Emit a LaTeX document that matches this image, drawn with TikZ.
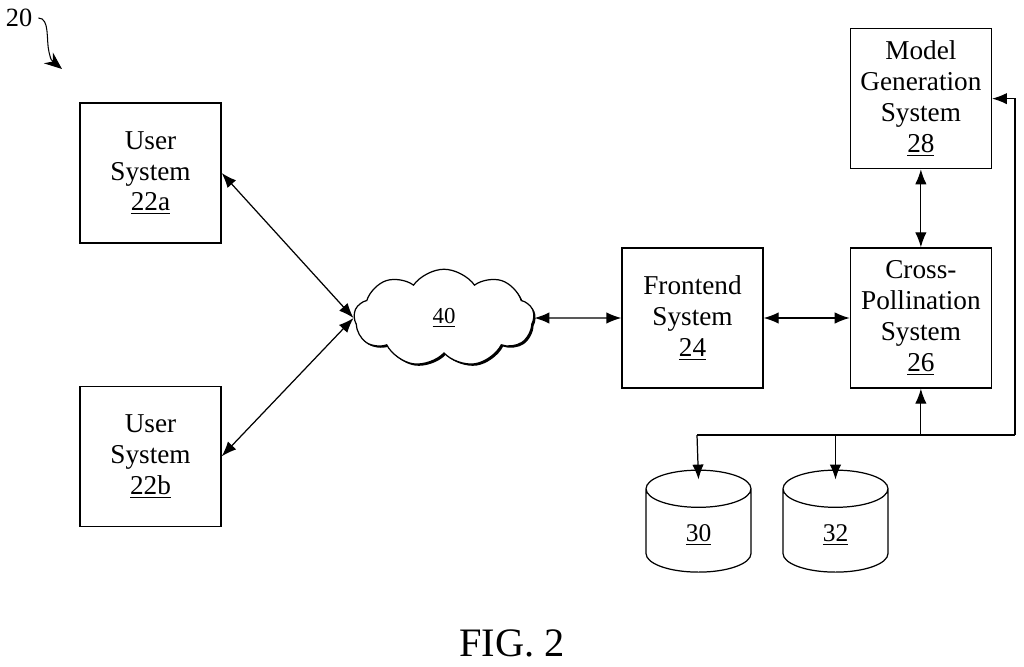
\documentclass[tikz,border=0pt]{standalone}
\usepackage{fontspec}
\setmainfont{Liberation Serif}
\usepackage{tikz}
\usetikzlibrary{shapes,arrows.meta,positioning,shadows}
\tikzstyle{block} = [draw, rectangle, line width=0.8pt, minimum height=2.8cm, minimum width=2.82cm, align=center, font=\fontsize{15.5}{17.6}\selectfont]
\tikzstyle{store} = [draw, cylinder, shape border rotate=90, aspect=1, line width=0.7pt, minimum height=2.04cm, minimum width=2.1cm, font=\fontsize{14.5}{16}\selectfont]
\tikzstyle{link} = [{Latex[length=8.5pt,width=6.5pt]}-{Latex[length=8.5pt,width=6.5pt]}, line width=0.7pt]
\tikzstyle{feed} = [-{Latex[length=8.5pt,width=6.5pt]}, line width=0.7pt]

\begin{document}
\begin{tikzpicture}[x=0.02cm, y=-0.02cm]
    \useasboundingbox (0,0) rectangle (1024,666);

    % user side
    \node [block] (usera) at (150.5,173) {
        User\\System\\\underline{22a}
    };
    \node [block] [below = 2.84cm of usera] (userb) {
        User\\System\\\underline{22b}
    };
    \node [draw, cloud, cloud puffs=9, cloud puff arc=110, aspect=2, fill=white, line width=0.7pt,
           drop shadow={shadow xshift=1pt, shadow yshift=-1pt, fill=black, opacity=1},
           minimum width=3.6cm, minimum height=1.95cm, font=\fontsize{13}{14}\selectfont] (net) at (444,318) {
        \underline{40}
    };

    % server side
    \node [block] (frontend) at (692.5,318) {
        Frontend\\System\\\underline{24}
    };
    \node [block] [right = 1.72cm of frontend] (cross) {
        Cross-\\Pollination\\System\\\underline{26}
    };
    \node [block] [above = 1.56cm of cross] (model) {
        Model\\Generation\\System\\\underline{28}
    };
    \node [store] (dbone) at (698.5,535) {\underline{30}};
    \node [store] (dbtwo) at (835.5,535) {\underline{32}};

    \coordinate (busl) at (697,435);
    \coordinate (busr) at (1015,435);

    \draw[link] (usera.east) -- (net.west);
    \draw[link] (userb.east) -- (net.west);
    \draw[link] (net.east) -- (frontend.west);
    \draw[link] (frontend) -- (cross);
    \draw[link] (model) -- (cross);

    \draw[line width=0.7pt] (busl) -- (busr);
    \draw[feed] (busr) |- (model.east);
    \draw[feed] (cross.south |- busl) -- (cross.south);
    \draw[feed] (busl) -- ([yshift=-0.2cm]dbone.north);
    \draw[feed] (dbtwo.north |- busl) -- ([yshift=-0.2cm]dbtwo.north);

    % figure labels
    \node [font=\fontsize{15}{17}\selectfont] (ref) at (19,18) {20};
    \draw[-{Stealth[length=10pt,width=8pt]}, line width=0.6pt] (ref.east) .. controls (50,18) and (46,40) .. (49,52) .. controls (51,60) .. (62,69);
    \node [font=\fontsize{23}{26}\selectfont] (fig) at (512,643) {FIG. 2};
\end{tikzpicture}
\end{document}
